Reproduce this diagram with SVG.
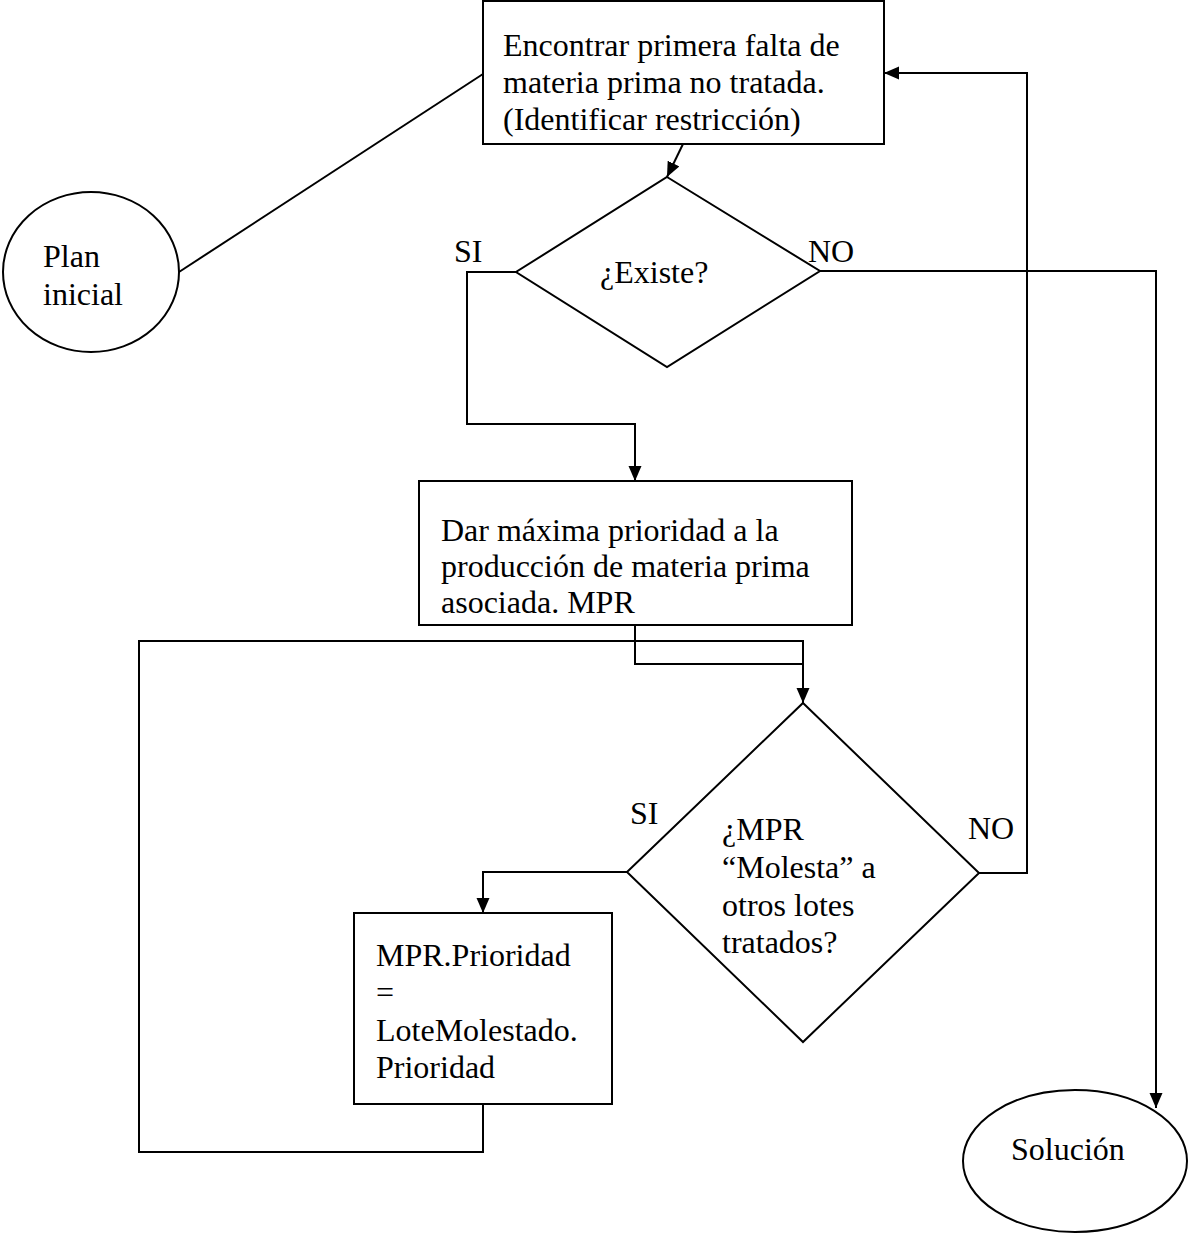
<svg xmlns="http://www.w3.org/2000/svg" width="1188" height="1233" viewBox="0 0 1188 1233">
  <style>
    .shape { fill: #ffffff; stroke: #000000; stroke-width: 2; }
    .wire { fill: none; stroke: #000000; stroke-width: 2; }
    .arrow { fill: none; stroke: #000000; stroke-width: 2; marker-end: url(#head); }
    text { font-family: "Liberation Serif", "Times New Roman", serif; font-size: 32px; fill: #000000; }
  </style>
  <defs>
    <marker id="head" markerUnits="userSpaceOnUse" markerWidth="16" markerHeight="14" refX="15" refY="6.5" orient="auto">
      <path d="M0,0 L15,6.5 L0,13 Z" fill="#000000"/>
    </marker>
  </defs>

  <rect width="1188" height="1233" fill="#ffffff"/>

  <!-- connectors -->
  <g id="connectors">
    <!-- start ellipse to first box -->
    <line class="wire" x1="179" y1="272" x2="483" y2="74"/>
    <!-- first box to decision 1 -->
    <line class="arrow" x1="683" y1="144" x2="667" y2="177"/>
    <!-- decision 1, SI branch -->
    <polyline class="arrow" points="516,272 467,272 467,424 635,424 635,481"/>
    <!-- decision 1, NO branch to solution -->
    <polyline class="arrow" points="820,271 1156,271 1156,1108"/>
    <!-- box 2 to decision 2 -->
    <polyline class="wire" points="635,625 635,664 803,664"/>
    <!-- loop back from box 3 into decision 2 -->
    <polyline class="arrow" points="483,1104 483,1152 139,1152 139,641 803,641 803,703"/>
    <!-- decision 2, SI branch -->
    <polyline class="arrow" points="627,872 483,872 483,913"/>
    <!-- decision 2, NO branch back to first box -->
    <polyline class="arrow" points="979,873 1027,873 1027,73 884,73"/>
  </g>

  <!-- start terminal -->
  <g id="plan-inicial">
    <ellipse class="shape" cx="91" cy="272" rx="88" ry="80"/>
    <text x="43" y="267">Plan</text>
    <text x="43" y="305">inicial</text>
  </g>

  <!-- find first untreated shortage -->
  <g id="encontrar">
    <rect class="shape" x="483" y="1" width="401" height="143"/>
    <text x="503" y="56">Encontrar primera falta de</text>
    <text x="503" y="93">materia prima no tratada.</text>
    <text x="503" y="130">(Identificar restricción)</text>
  </g>

  <!-- decision: exists? -->
  <g id="existe">
    <polygon class="shape" points="667,177 820,271 667,367 516,272"/>
    <text x="600" y="283">¿Existe?</text>
    <text x="454" y="262">SI</text>
    <text x="808" y="262">NO</text>
  </g>

  <!-- give top priority -->
  <g id="dar-prioridad">
    <rect class="shape" x="419" y="481" width="433" height="144"/>
    <text x="441" y="541">Dar máxima prioridad a la</text>
    <text x="441" y="577">producción de materia prima</text>
    <text x="441" y="613">asociada. MPR</text>
  </g>

  <!-- decision: does MPR disturb other lots? -->
  <g id="molesta">
    <polygon class="shape" points="803,703 979,873 803,1042 627,872"/>
    <text x="722" y="840">¿MPR</text>
    <text x="722" y="878">“Molesta” a</text>
    <text x="722" y="916">otros lotes</text>
    <text x="722" y="953">tratados?</text>
    <text x="630" y="824">SI</text>
    <text x="968" y="839">NO</text>
  </g>

  <!-- priority assignment -->
  <g id="asignar">
    <rect class="shape" x="354" y="913" width="258" height="191"/>
    <text x="376" y="966">MPR.Prioridad</text>
    <text x="376" y="1003">=</text>
    <text x="376" y="1041">LoteMolestado.</text>
    <text x="376" y="1078">Prioridad</text>
  </g>

  <!-- end terminal -->
  <g id="solucion">
    <ellipse class="shape" cx="1075" cy="1161" rx="112" ry="71"/>
    <text x="1011" y="1160">Solución</text>
  </g>
</svg>
